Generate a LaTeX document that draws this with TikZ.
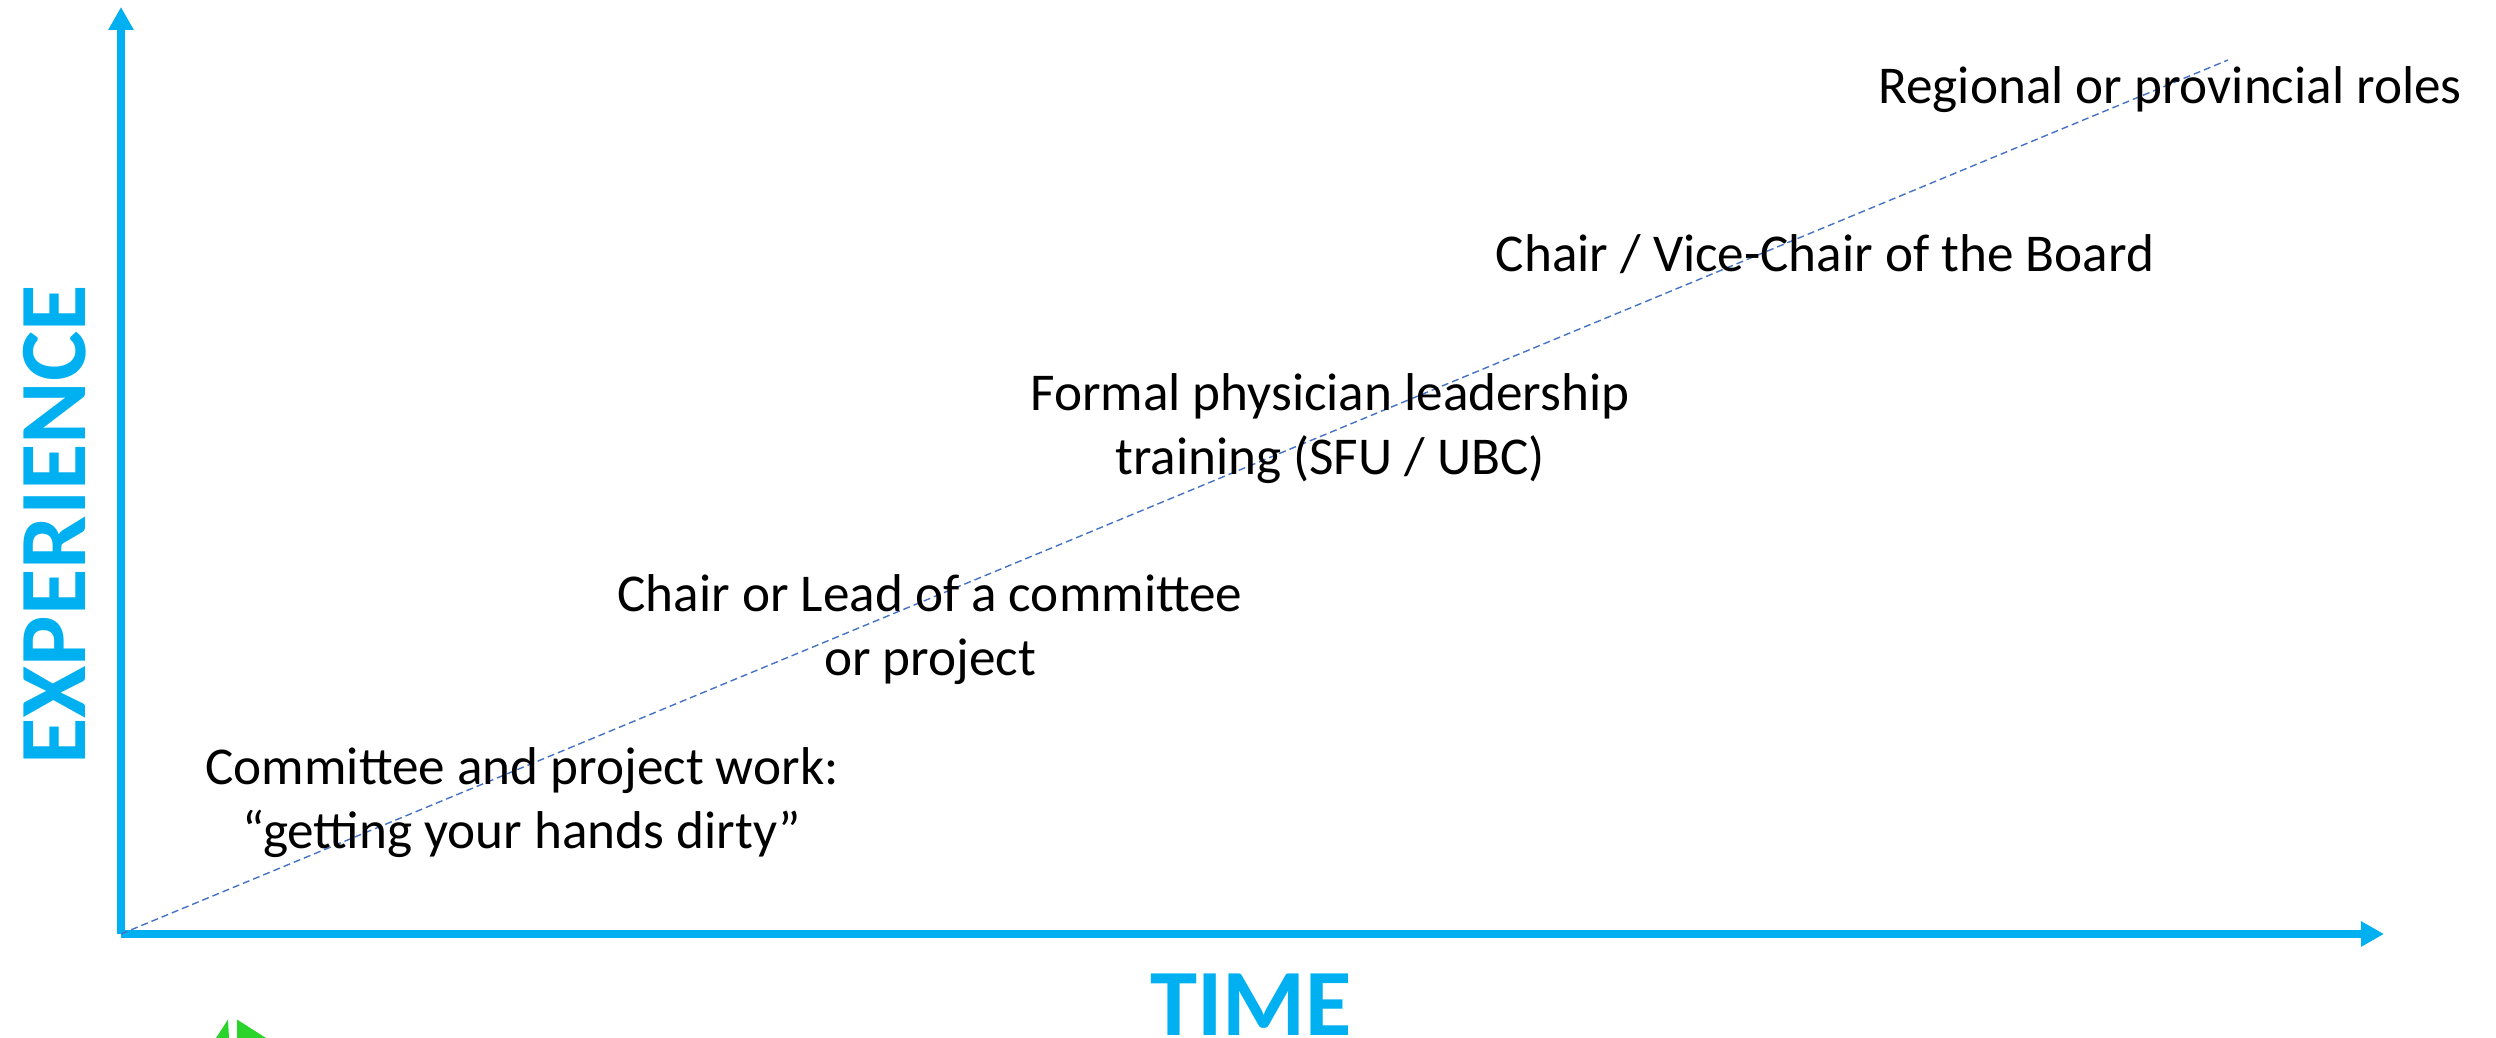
\documentclass[tikz,border=0pt]{standalone}
\usepackage{fontspec}
\setmainfont{Carlito}
\usetikzlibrary{arrows.meta}
\definecolor{axisblue}{HTML}{00B0F0}
\definecolor{dashblue}{HTML}{4472C4}
\definecolor{leafgreen}{HTML}{2BD42B}
\tikzset{
  x=0.5pt,y=-0.5pt,
  axisline/.style={draw=axisblue,line width=4pt,-{Triangle[length=11.5pt,width=12pt]}},
  trendline/.style={draw=dashblue,line width=0.7pt,dash pattern=on 3.5pt off 2pt},
  lbl/.style={inner sep=0pt,align=center,text=black,font=\fontsize{26.6}{32}\selectfont,anchor=center},
  axislbl/.style={inner sep=0pt,text=axisblue,font=\fontsize{47.5}{50}\selectfont\bfseries}
}
\begin{document}
\begin{tikzpicture}
\useasboundingbox (0,0) rectangle (2496,1038);
\coordinate (o) at (121,934);
\coordinate (ytip) at (121,7);
\coordinate (xtip) at (2384,934);
\coordinate (ttip) at (2228,60);
\draw[axisline] (o) -- (ytip);
\draw[axisline] (o) -- (xtip);
\draw[trendline] (o) -- (ttip);
\node[lbl] (a) at (2170,90) {Regional or provincial roles};
\node[lbl] (b) at (1825,254) {Chair / Vice-Chair of the Board};
\node[lbl] (c) at (1330,429) {Formal physician leadership\\training (SFU / UBC)};
\node[lbl] (d) at (930,630) {Chair or Lead of a committee\\or project};
\node[lbl] (e) at (522,803) {Committee and project work:\\“getting your hands dirty”};
\node[axislbl] (t) at (1251,1004.5) {TIME};
\node[axislbl,rotate=90] (x) at (55,525) {EXPERIENCE};
\fill[leafgreen] (228,1019.5) -- (229,1038) -- (216,1038) -- cycle;
\fill[leafgreen] (237,1019.5) -- (266,1038) -- (237,1038) -- cycle;
\end{tikzpicture}
\end{document}
